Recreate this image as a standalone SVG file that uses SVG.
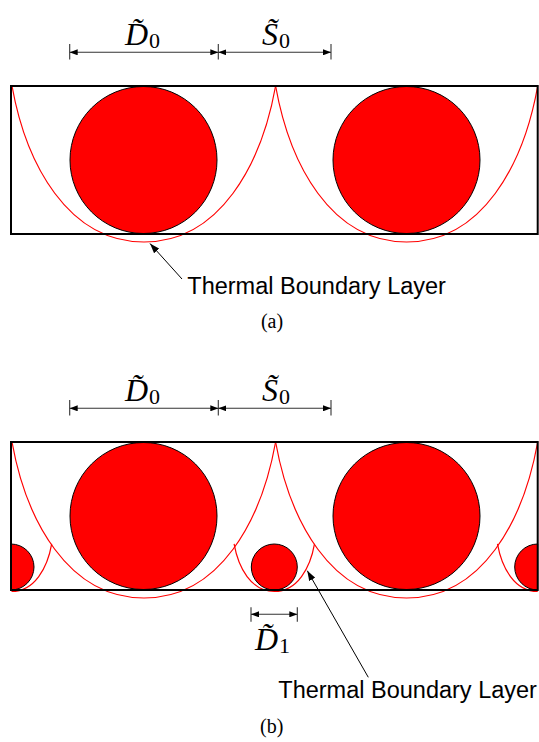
<svg xmlns="http://www.w3.org/2000/svg" width="539" height="742" viewBox="0 0 539 742">
<style>
.frame{fill:none;stroke:#000;stroke-width:2}
.cyl{fill:#ff0000;stroke:#000;stroke-width:1}
.tbl{fill:none;stroke:#ff0000;stroke-width:1.2}
.dim{stroke:#333;stroke-width:1.1;fill:none}
.tick{stroke:#333;stroke-width:1.1}
.ptr{stroke:#000;stroke-width:1;fill:none}
.math{font-family:"Liberation Serif",serif;font-style:italic;font-size:32px;fill:#000}
.sub{font-family:"Liberation Serif",serif;font-size:22px;fill:#000}
.lbl{font-family:"Liberation Sans",Arial,sans-serif;font-size:23.5px;fill:#000}
.cap{font-family:"Liberation Serif",serif;font-size:20px;fill:#000}
</style>
<defs>
<marker id="ah" viewBox="0 0 8 6" refX="8" refY="3" markerWidth="8" markerHeight="6" markerUnits="userSpaceOnUse" orient="auto-start-reverse"><path d="M0,0 L8,3 L0,6 Z" fill="#000"/></marker>
<marker id="ahp" viewBox="0 0 10 7" refX="10" refY="3.5" markerWidth="10" markerHeight="7" markerUnits="userSpaceOnUse" orient="auto"><path d="M0,0 L10,3.5 L0,7 Z" fill="#000"/></marker>
</defs>

<!-- Panel (a) -->
<g id="panel-a">
  <g id="a-boundary-layers">
    <path class="tbl" d="M12,86 C26,164 68,242 144,242 C220,242 261.6,164 275.6,86"/>
    <path class="tbl" d="M275.6,86 C289.6,164 330.6,242 406.6,242 C482.6,242 523.7,164 537.7,86"/>
  </g>
  <g id="a-cylinder-1"><circle class="cyl" cx="143.5" cy="160" r="73.5"/></g>
  <g id="a-cylinder-2"><circle class="cyl" cx="406.5" cy="160" r="73.5"/></g>
  <g id="a-frame"><rect class="frame" x="11" y="86" width="526.7" height="148"/></g>
  <g id="a-dims">
    <line class="tick" x1="69.7" y1="44" x2="69.7" y2="59.5"/>
    <line class="tick" x1="218.3" y1="44" x2="218.3" y2="59.5"/>
    <line class="tick" x1="331" y1="44" x2="331" y2="59.5"/>
    <line class="dim" x1="69.7" y1="52.3" x2="218.3" y2="52.3" marker-start="url(#ah)" marker-end="url(#ah)"/>
    <line class="dim" x1="218.3" y1="52.3" x2="331" y2="52.3" marker-start="url(#ah)" marker-end="url(#ah)"/>
    <text class="math" x="125" y="45">D&#x303;<tspan class="sub" font-style="normal" dx="1" dy="3">0</tspan></text>
    <text class="math" x="262" y="45">S&#x303;<tspan class="sub" font-style="normal" dx="1" dy="3">0</tspan></text>
  </g>
  <g id="a-label">
    <line class="ptr" x1="182" y1="279" x2="150" y2="243.5" marker-end="url(#ahp)"/>
    <text class="lbl" x="187.3" y="294">Thermal Boundary Layer</text>
  </g>
  <text class="cap" x="272" y="328" text-anchor="middle">(a)</text>
</g>

<!-- Panel (b) -->
<g id="panel-b">
  <g id="b-boundary-layers">
    <path class="tbl" d="M12,442 C26,520 68,598 144,598 C220,598 261.6,520 275.6,442"/>
    <path class="tbl" d="M275.6,442 C289.6,520 330.6,598 406.6,598 C482.6,598 523.7,520 537.7,442"/>
    <path class="tbl" d="M11.5,591.5 C34.7,591.5 47.5,567.7 51.7,543.9"/>
    <path class="tbl" d="M234.1,543.9 C238.3,567.7 251.1,591.5 274.3,591.5 C297.5,591.5 310.3,567.7 314.5,543.9"/>
    <path class="tbl" d="M497.5,543.9 C501.7,567.7 514.5,591.5 537.7,591.5"/>
  </g>
  <g id="b-cylinder-1"><circle class="cyl" cx="143.5" cy="516" r="73.5"/></g>
  <g id="b-cylinder-2"><circle class="cyl" cx="406.5" cy="516" r="73.5"/></g>
  <g id="b-small-left"><path class="cyl" d="M11,544 A23,23 0 0 1 11,590 Z"/></g>
  <g id="b-small-mid"><circle class="cyl" cx="274.3" cy="567" r="23"/></g>
  <g id="b-small-right"><path class="cyl" d="M537.7,544 A23,23 0 0 0 537.7,590 Z"/></g>
  <g id="b-frame"><rect class="frame" x="11" y="442" width="526.7" height="148"/></g>
  <g id="b-dims">
    <line class="tick" x1="69.7" y1="400" x2="69.7" y2="415.5"/>
    <line class="tick" x1="218.3" y1="400" x2="218.3" y2="415.5"/>
    <line class="tick" x1="331" y1="400" x2="331" y2="415.5"/>
    <line class="dim" x1="69.7" y1="408.3" x2="218.3" y2="408.3" marker-start="url(#ah)" marker-end="url(#ah)"/>
    <line class="dim" x1="218.3" y1="408.3" x2="331" y2="408.3" marker-start="url(#ah)" marker-end="url(#ah)"/>
    <text class="math" x="125" y="401">D&#x303;<tspan class="sub" font-style="normal" dx="1" dy="3">0</tspan></text>
    <text class="math" x="262" y="401">S&#x303;<tspan class="sub" font-style="normal" dx="1" dy="3">0</tspan></text>
    <line class="tick" x1="251" y1="607.3" x2="251" y2="621.7"/>
    <line class="tick" x1="297.3" y1="607.3" x2="297.3" y2="621.7"/>
    <line class="dim" x1="251" y1="614.3" x2="297.3" y2="614.3" marker-start="url(#ah)" marker-end="url(#ah)"/>
    <text class="math" x="255" y="650">D&#x303;<tspan class="sub" font-style="normal" dx="1" dy="3">1</tspan></text>
  </g>
  <g id="b-label">
    <line class="ptr" x1="368.3" y1="677.3" x2="307.3" y2="570.7" marker-end="url(#ahp)"/>
    <text class="lbl" x="278.3" y="698.3">Thermal Boundary Layer</text>
  </g>
  <text class="cap" x="271.7" y="732.5" text-anchor="middle">(b)</text>
</g>
</svg>
